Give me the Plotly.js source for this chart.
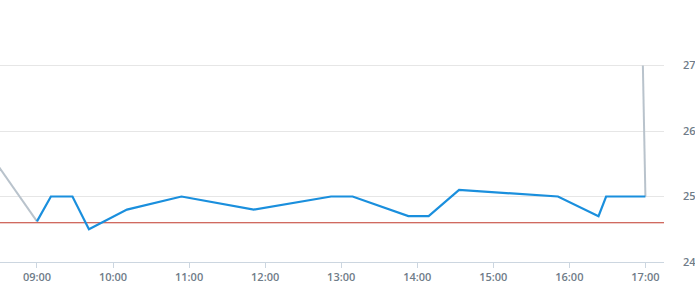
<!DOCTYPE html>
<html>
<head>
<meta charset="utf-8">
<script src="https://cdn.plot.ly/plotly-3.0.1.min.js"></script>
<style>html,body{margin:0;padding:0;background:#fff;}#chart{width:695px;height:300px;}</style>
</head>
<body>
<div id="chart"></div>
<script>
// Measured series (blue)
var mainTimes = ["2024-01-01 09:00","2024-01-01 09:11","2024-01-01 09:28","2024-01-01 09:41","2024-01-01 10:11","2024-01-01 10:54","2024-01-01 11:51","2024-01-01 12:52","2024-01-01 13:09","2024-01-01 13:53","2024-01-01 14:09","2024-01-01 14:33","2024-01-01 15:51","2024-01-01 16:23","2024-01-01 16:29","2024-01-01 17:00"];
var mainValues = [24.62, 25.0, 25.0, 24.5, 24.8, 25.0, 24.8, 25.0, 25.0, 24.7, 24.7, 25.1, 25.0, 24.7, 25.0, 25.0];
// Grey series (outside the measured window)
var greyTimes = ["2024-01-01 08:30","2024-01-01 09:00",null,"2024-01-01 16:58","2024-01-01 17:00"];
var greyValues = [25.45, 24.62, null, 27.0, 25.0];
// Reference threshold (red)
var thresholdValue = 24.6;
var xRange = ["2024-01-01 08:30:50","2024-01-01 17:14:40"];
var yRange = [24, 27.1];
var yTicks = [24, 25, 26, 27];

var tickFont = {family: "Open Sans, sans-serif", size: 11, color: "#6f7c88", weight: 600};

var traces = [
  {x: greyTimes, y: greyValues, type: "scatter", mode: "lines", connectgaps: false,
   line: {color: "#b9c3cc", width: 2}, hoverinfo: "skip"},
  {x: xRange, y: [thresholdValue, thresholdValue], type: "scatter", mode: "lines",
   line: {color: "#c0392b", width: 1.1}, hoverinfo: "skip"},
  {x: mainTimes, y: mainValues, type: "scatter", mode: "lines",
   line: {color: "#1a8fdd", width: 2.2}}
];

var layout = {
  width: 695, height: 300,
  margin: {l: 0, r: 31, t: 59, b: 38},
  paper_bgcolor: "#ffffff", plot_bgcolor: "#ffffff",
  showlegend: false,
  xaxis: {
    type: "date", range: xRange,
    tickformat: "%H:%M", dtick: 3600000,
    tick0: "2024-01-01 09:00",
    showgrid: false, zeroline: false,
    showline: true, linecolor: "#ccd6e0", linewidth: 1,
    ticks: "outside", ticklen: 5, tickcolor: "#ccd6e0",
    tickfont: tickFont
  },
  yaxis: {
    side: "right", range: yRange, tickvals: yTicks,
    showgrid: true, gridcolor: "#e6e6e6", zeroline: false,
    showline: false, ticks: "", ticklabelstandoff: 18,
    tickfont: tickFont
  }
};

Plotly.newPlot("chart", traces, layout, {displayModeBar: false, staticPlot: true});
</script>
</body>
</html>
